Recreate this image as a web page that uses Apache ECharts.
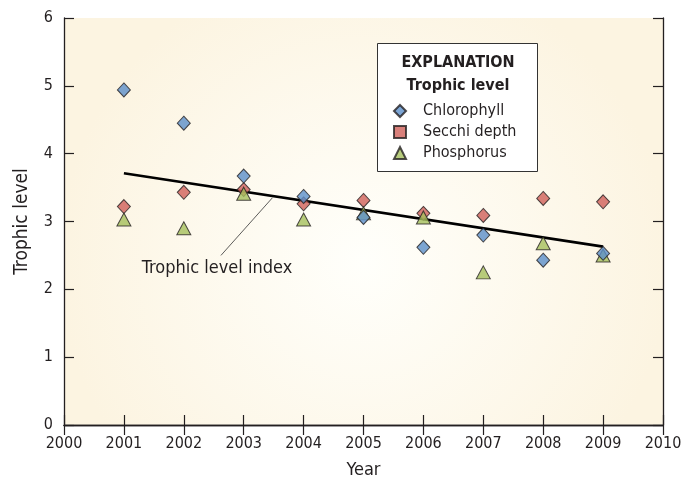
<!DOCTYPE html>
<html>
<head>
<meta charset="utf-8">
<script src="https://cdn.jsdelivr.net/npm/echarts@6/dist/echarts.min.js"></script>
<style>
  html, body { margin: 0; padding: 0; background: #fff; }
  #chart { width: 687px; height: 484px; }
</style>
</head>
<body>
<div id="chart"></div>
<script>
  // values
  var years = [2001, 2002, 2003, 2004, 2005, 2006, 2007, 2008, 2009];
  var chlorophyll = [4.94, 4.45, 3.67, 3.37, 3.06, 2.62, 2.80, 2.43, 2.53];
  var secchi = [3.22, 3.43, 3.47, 3.26, 3.31, 3.12, 3.09, 3.34, 3.29];
  var phosphorus = [3.03, 2.90, 3.41, 3.03, 3.12, 3.06, 2.25, 2.68, 2.50];
  var trendYears = [2001, 2009];
  var trendValues = [3.71, 2.63];
  var leaderYears = [2002.62, 2003.48];
  var leaderValues = [2.50, 3.35];

  var font = '"DejaVu Sans Condensed", "Liberation Sans Narrow", "Liberation Sans", sans-serif';
  var ink = '#231f20';

  function pairs(xs, ys) {
    return xs.map(function (x, i) { return [x, ys[i]]; });
  }

  var markerBorder = { borderColor: ink, borderWidth: 1 };

  var myChart = echarts.init(document.getElementById('chart'), null, { renderer: 'canvas' });

  var xBase = {
    type: 'value', min: 2000, max: 2010, interval: 1,
    splitLine: { show: false },
    axisLine: { lineStyle: { color: ink, width: 1.3 } },
    axisTick: { inside: true, length: 10, lineStyle: { color: ink, width: 1.2 } }
  };
  var yBase = {
    type: 'value', min: 0, max: 6, interval: 1,
    splitLine: { show: false },
    axisLine: { show: true, lineStyle: { color: ink, width: 1.3 } },
    axisTick: { show: true, inside: true, length: 10, lineStyle: { color: ink, width: 1.2 } }
  };

  myChart.setOption({
    animation: false,
    textStyle: { fontFamily: font },
    grid: {
      left: 64, right: 24, top: 18, bottom: 58,
      show: true,
      borderWidth: 0,
      backgroundColor: {
        type: 'radial', x: 0.5, y: 0.6, r: 0.75,
        colorStops: [
          { offset: 0, color: '#fffffb' },
          { offset: 1, color: '#fcf4e1' }
        ]
      }
    },
    legend: {
      orient: 'vertical',
      left: 388, top: 98,
      itemWidth: 12, itemHeight: 12, itemGap: 5,
      textStyle: { fontFamily: font, fontSize: 16, color: ink, padding: [0, 0, 0, 12] },
      data: [
        { name: 'Chlorophyll', icon: 'diamond' },
        { name: 'Secchi depth', icon: 'rect' },
        { name: 'Phosphorus', icon: 'triangle' }
      ],
      selectedMode: false
    },
    graphic: [
      {
        type: 'rect', z: 1,
        shape: { x: 377.5, y: 43.5, width: 160, height: 128 },
        style: { fill: '#fff', stroke: '#333', lineWidth: 1 }
      },
      {
        type: 'text', z: 3,
        x: 458, y: 63,
        style: { text: 'EXPLANATION', fontFamily: font, fontSize: 16, fontWeight: 'bold', fill: ink, align: 'center', verticalAlign: 'middle' }
      },
      {
        type: 'text', z: 3,
        x: 458, y: 86,
        style: { text: 'Trophic level', fontFamily: font, fontSize: 16, fontWeight: 'bold', fill: ink, align: 'center', verticalAlign: 'middle' }
      },
      {
        type: 'text', z: 3,
        x: 217, y: 268,
        style: { text: 'Trophic level index', fontFamily: font, fontSize: 18, fill: ink, align: 'center', verticalAlign: 'middle' }
      }
    ],
    xAxis: [
      Object.assign({}, xBase, {
        position: 'bottom',
        name: 'Year', nameLocation: 'middle', nameGap: 36,
        nameTextStyle: { fontFamily: font, fontSize: 18, color: ink },
        axisLabel: { fontFamily: font, fontSize: 16, color: ink, margin: 11, formatter: function (v) { return String(v); } }
      }),
      Object.assign({}, xBase, {
        position: 'top',
        axisLabel: { show: false }
      })
    ],
    yAxis: [
      Object.assign({}, yBase, {
        position: 'left',
        name: 'Trophic level', nameLocation: 'middle', nameGap: 32,
        nameTextStyle: { fontFamily: font, fontSize: 19, color: ink },
        axisLabel: { fontFamily: font, fontSize: 16, color: ink, margin: 11 }
      }),
      Object.assign({}, yBase, {
        position: 'right',
        axisLabel: { show: false }
      })
    ],
    series: [
      {
        name: 'Trophic level index', type: 'line',
        data: pairs(trendYears, trendValues),
        showSymbol: false, symbol: 'none',
        lineStyle: { color: '#000', width: 2.6 },
        z: 2, silent: true
      },
      {
        name: 'leader', type: 'line',
        data: pairs(leaderYears, leaderValues),
        showSymbol: false, symbol: 'none',
        lineStyle: { color: '#333', width: 0.8 },
        z: 2, silent: true
      },
      {
        name: 'Secchi depth', type: 'scatter',
        data: pairs(years, secchi),
        symbol: 'diamond', symbolSize: [13, 14],
        itemStyle: Object.assign({ color: '#d0605a' }, markerBorder),
        z: 3
      },
      {
        name: 'Phosphorus', type: 'scatter',
        data: pairs(years, phosphorus),
        symbol: 'triangle', symbolSize: [14, 13],
        itemStyle: Object.assign({ color: '#a5bf5c' }, markerBorder),
        z: 4
      },
      {
        name: 'Chlorophyll', type: 'scatter',
        data: pairs(years, chlorophyll),
        symbol: 'diamond', symbolSize: [13, 14],
        itemStyle: Object.assign({ color: '#5b8fc9' }, markerBorder),
        z: 5
      }
    ]
  });
</script>
</body>
</html>
